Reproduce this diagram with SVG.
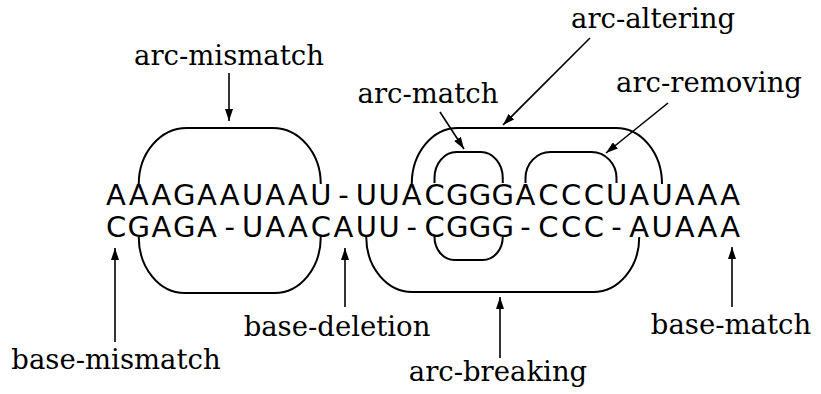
<svg xmlns="http://www.w3.org/2000/svg" width="821" height="394" viewBox="0 0 821 394">
<style>
.seq{font-family:"DejaVu Sans","Liberation Sans",sans-serif;font-size:29px;fill:#000;text-anchor:middle}
.lbl{font-family:"DejaVu Serif","Liberation Serif",serif;font-size:27.5px;fill:#000;text-anchor:middle}
.arc{fill:none;stroke:#000;stroke-width:2}
.arr{fill:none;stroke:#000;stroke-width:1.6;marker-end:url(#ah)}
</style>
<defs>
<marker id="ah" markerUnits="userSpaceOnUse" markerWidth="12" markerHeight="8" refX="12" refY="4" orient="auto">
<path d="M0,0 L12,4 L0,8 z" fill="#000"/>
</marker>
</defs>
<rect width="821" height="394" fill="#fff"/>
<g id="sequences">
<text id="seq-top" class="seq" x="116 138.75 161.5 184.25 207 229.75 252.5 275.25 298 320.75 343.5 366.25 389 411.75 434.5 457.25 480 502.75 525.5 548.25 571 593.75 616.5 639.25 662 684.75 707.5 730.25" y="205">AAAGAAUAAU-UUACGGGACCCUAUAAA</text>
<text id="seq-bottom" class="seq" x="116 138.75 161.5 184.25 207 229.75 252.5 275.25 298 320.75 343.5 366.25 389 411.75 434.5 457.25 480 502.75 525.5 548.25 571 593.75 616.5 639.25 662 684.75 707.5 730.25" y="237">CGAGA-UAACAUU-CGGG-CCC-AUAAA</text>
</g>
<g id="arcs">
<path id="arc-top-mismatch" class="arc" d="M138.75 184 A48 56 0 0 1 186.75 128 H272.75 A48 56 0 0 1 320.75 184"/>
<path id="arc-top-altering" class="arc" d="M411.75 184 A46 56 0 0 1 457.75 128 H616 A46 56 0 0 1 662 184"/>
<path id="arc-top-match" class="arc" d="M434.5 183 V178 A22 26 0 0 1 456.5 152 H480.75 A22 26 0 0 1 502.75 178 V183"/>
<path id="arc-top-removing" class="arc" d="M525.5 183 V178 A25 26 0 0 1 550.5 152 H591.5 A25 26 0 0 1 616.5 178 V183"/>
<path id="arc-bot-left" class="arc" d="M138.75 237 A46 56 0 0 0 184.75 293 H274.75 A46 56 0 0 0 320.75 237"/>
<path id="arc-bot-breaking" class="arc" d="M366.25 237 A46 55 0 0 0 412.25 292 H593.25 A46 55 0 0 0 639.25 237"/>
<path id="arc-bot-match" class="arc" d="M434.5 237 A20 23 0 0 0 454.5 260 H482.75 A20 23 0 0 0 502.75 237"/>
</g>
<g id="connectors">
<line class="arr" x1="229" y1="73" x2="229" y2="121"/>
<line class="arr" x1="590" y1="38" x2="503" y2="125"/>
<line class="arr" x1="440" y1="112" x2="464" y2="149"/>
<line class="arr" x1="668" y1="103" x2="606" y2="153"/>
<line class="arr" x1="115" y1="342" x2="115" y2="248"/>
<line class="arr" x1="345" y1="307" x2="345" y2="248"/>
<line class="arr" x1="500" y1="358" x2="500" y2="297"/>
<line class="arr" x1="732" y1="307" x2="732" y2="247"/>
</g>
<g id="label-arc-mismatch"><text class="lbl" x="229" y="65">arc-mismatch</text></g>
<g id="label-arc-altering"><text class="lbl" x="653" y="28">arc-altering</text></g>
<g id="label-arc-match"><text class="lbl" x="428" y="103">arc-match</text></g>
<g id="label-arc-removing"><text class="lbl" x="709" y="92">arc-removing</text></g>
<g id="label-base-mismatch"><text class="lbl" x="116" y="369">base-mismatch</text></g>
<g id="label-base-deletion"><text class="lbl" x="337" y="336">base-deletion</text></g>
<g id="label-arc-breaking"><text class="lbl" x="498" y="381">arc-breaking</text></g>
<g id="label-base-match"><text class="lbl" x="731" y="334">base-match</text></g>
</svg>
